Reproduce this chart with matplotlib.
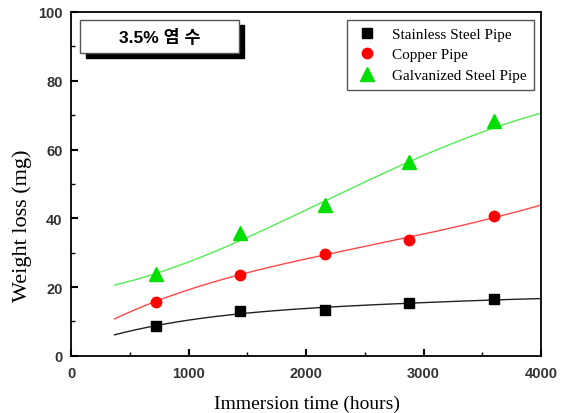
import numpy as np
import matplotlib
matplotlib.use("Agg")
import matplotlib.pyplot as plt
from matplotlib.patches import Rectangle
from matplotlib.ticker import MultipleLocator

# measured points
hours = [720, 1440, 2160, 2880, 3600]
stainless = [8.8, 13.0, 13.2, 15.3, 16.6]
copper = [15.6, 23.5, 29.6, 33.8, 40.8]
galvanized = [23.8, 35.7, 44.0, 56.5, 68.3]
series_names = ["Stainless Steel Pipe", "Copper Pipe", "Galvanized Steel Pipe"]

# fitted trend curves
curve_hours = [370, 720, 1440, 2160, 2880, 3600, 4000]
stainless_fit = [6.2, 8.6, 12.4, 14.1, 15.2, 16.4, 16.6]
copper_fit = [10.8, 15.8, 23.5, 29.8, 34.0, 40.6, 43.7]
galvanized_fit = [20.9, 23.3, 34.0, 45.2, 55.8, 67.0, 70.3]

box_label = "3.5% 염 수"

fig = plt.figure(figsize=(5.68, 4.14), dpi=100)
ax = fig.add_axes([0.125, 0.138, 0.8275, 0.8306])

styles = [("black", "s", "#222222", 7), ("red", "o", "#ff4848", 7.5), ("#00e000", "^", "#50ee50", 9.5)]
dense = np.linspace(curve_hours[0], curve_hours[-1], 200)
for vals, fit, name, (mc, mk, lc, ms) in zip([stainless, copper, galvanized],
                                             [stainless_fit, copper_fit, galvanized_fit],
                                             series_names, styles):
    coef = np.polyfit(curve_hours, fit, 4)
    ax.plot(dense, np.polyval(coef, dense), color=lc, lw=1.0, zorder=2)
    ax.plot(hours, vals, ls="none", marker=mk, color=mc, ms=ms, label=name, zorder=3)

ax.set_xlim(0, 4000)
ax.set_ylim(0, 100)
ax.xaxis.set_major_locator(MultipleLocator(1000))
ax.xaxis.set_minor_locator(MultipleLocator(500))
ax.yaxis.set_major_locator(MultipleLocator(20))
ax.yaxis.set_minor_locator(MultipleLocator(10))
ax.tick_params(which="major", direction="in", length=5, width=1.5, top=False, right=False)
ax.tick_params(which="minor", direction="in", length=3, width=1, top=False, right=False)
ax.tick_params(axis="x", which="major", pad=7)
ax.tick_params(axis="y", which="major", pad=6)
for lab in ax.get_xticklabels() + ax.get_yticklabels():
    lab.set_fontfamily("Liberation Sans")
    lab.set_fontweight("bold")
    lab.set_fontsize(10.5)
    lab.set_color("#333333")
for s in ax.spines.values():
    s.set_linewidth(1.3)

ax.set_xlabel("Immersion time (hours)", family="Liberation Serif", fontsize=14)
ax.xaxis.set_label_coords(0.502, -0.112)
ax.set_ylabel("Weight loss (mg)", family="Liberation Serif", fontsize=16)
ax.yaxis.set_label_coords(-0.082, 0.38)

leg = ax.legend(loc="upper right", bbox_to_anchor=(0.985, 0.978), borderaxespad=0,
                prop={"family": "Liberation Serif", "size": 11},
                fancybox=False, edgecolor="#555555", framealpha=1, handletextpad=0.8,
                borderpad=0.5, labelspacing=0.45, handlelength=1.6)
leg.get_frame().set_linewidth(1.0)

# label box with shadow
bx0, by0, bw, bh = 0.019, 0.881, 0.338, 0.096
ax.add_patch(Rectangle((bx0 + 0.012, by0 - 0.015), bw, bh, transform=ax.transAxes,
                       facecolor="black", edgecolor="black", zorder=4))
ax.add_patch(Rectangle((bx0, by0), bw, bh, transform=ax.transAxes,
                       facecolor="white", edgecolor="#555555", lw=1.0, zorder=5))
ax.text(bx0 + bw / 2, by0 + bh / 2, box_label, transform=ax.transAxes, ha="center", va="center",
        family=["Liberation Sans", "Noto Sans CJK KR"], fontweight="bold", fontsize=12.5, zorder=6)

fig.savefig("out.png", dpi=100)
